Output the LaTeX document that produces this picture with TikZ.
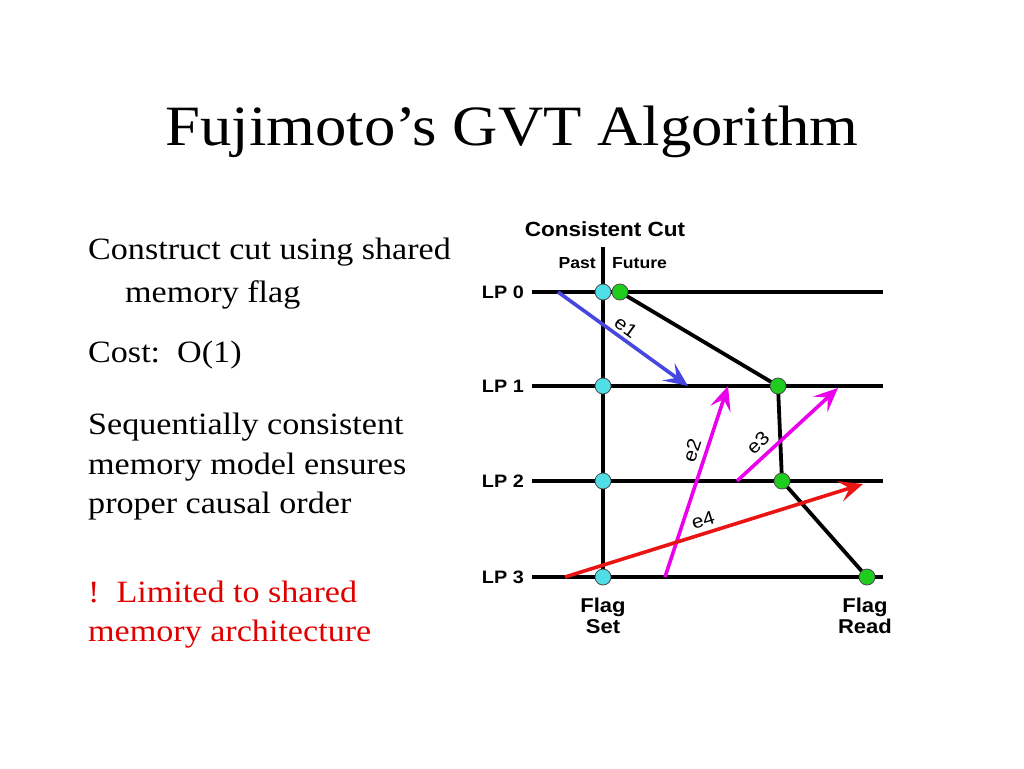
\documentclass[tikz,border=0pt]{standalone}
\usepackage{fontspec}
\setmainfont{Liberation Serif}[FakeStretch=1.1]
\newfontfamily\diagfont{Liberation Sans}[FakeStretch=1.1]
\usetikzlibrary{arrows.meta}
\definecolor{cutcyan}{RGB}{80,222,230}
\definecolor{cutgreen}{RGB}{30,205,30}
\definecolor{msgblue}{RGB}{70,70,225}
\definecolor{msgmag}{RGB}{235,0,235}
\definecolor{msgred}{RGB}{235,20,20}
\definecolor{txtred}{RGB}{225,0,0}
\tikzset{
  body/.style={anchor=base west, inner sep=0pt, font=\fontsize{31}{36}\selectfont},
  lpline/.style={line width=3.8pt},
  cutline/.style={line width=3.8pt},
  pastnode/.style={circle, draw=black!70, line width=0.8pt, fill=cutcyan, minimum size=16pt, inner sep=0pt},
  futnode/.style={circle, draw=black!70, line width=0.8pt, fill=cutgreen, minimum size=16pt, inner sep=0pt},
  msg/.style={line width=3.6pt, -{Stealth[length=24pt,width=21pt,inset=10pt]}},
  lbl/.style={font=\diagfont\bfseries\fontsize{18}{20}\selectfont, inner sep=0pt},
  elbl/.style={font=\diagfont\fontsize{19}{20}\selectfont, inner sep=0pt},
}
\begin{document}
\begin{tikzpicture}[x=1pt,y=-1pt]
\useasboundingbox[fill=white] (0,0) rectangle (1024,768);
% title
\node[anchor=base, inner sep=0pt, font=\fontsize{57}{60}\selectfont] (title) at (512,145) {Fujimoto’s GVT Algorithm};
% left text
\node[body] (t1) at (88,259) {Construct cut using shared};
\node[body] (t2) at (125,302) {memory flag};
\node[body] (t3) at (88,362) {Cost:\ \ O(1)};
\node[body] (t4) at (88,434) {Sequentially consistent};
\node[body] (t5) at (88,474) {memory model ensures};
\node[body] (t6) at (88,513) {proper causal order};
\node[body, text=txtred] (t7) at (88,602) {!\ \ Limited to shared};
\node[body, text=txtred] (t8) at (88,641) {memory architecture};
% diagram labels
\node[lbl, anchor=base, font=\diagfont\bfseries\fontsize{20.5}{24}\selectfont] (cc) at (605,236) {Consistent Cut};
\node[lbl, anchor=base east, font=\diagfont\bfseries\fontsize{16}{18}\selectfont] (past) at (596,268) {Past};
\node[lbl, anchor=base west, font=\diagfont\bfseries\fontsize{16}{18}\selectfont] (future) at (612,268) {Future};
% LP lines
\foreach \i/\y in {0/292,1/386,2/481,3/577}{
  \coordinate (s\i) at (532,\y);
  \coordinate (e\i) at (883,\y);
  \draw[lpline] (s\i) -- (e\i);
  \node[lbl, anchor=east] (lp\i) at (524,\y) {LP \i};
}
% vertical cut
\coordinate (vtop) at (603,247);
\coordinate (vbot) at (603,577);
\draw[cutline] (vtop) -- (vbot);
% future cut
\coordinate (g0) at (620,292);
\coordinate (g1) at (778,386);
\coordinate (g2) at (782,481);
\coordinate (g3) at (867,577);
\draw[cutline, line join=round] (g0) -- (g1) -- (g2) -- (g3);
% messages
\coordinate (m1a) at (558,292); \coordinate (m1b) at (688,386);
\coordinate (m2a) at (665,577); \coordinate (m2b) at (728,386);
\coordinate (m3a) at (737,481); \coordinate (m3b) at (838,388);
\coordinate (m4a) at (565,577); \coordinate (m4b) at (863,484);
\draw[msg, msgblue] (m1a) -- (m1b);
\draw[msg, msgmag] (m2a) -- (m2b);
\draw[msg, msgmag] (m3a) -- (m3b);
\draw[msg, msgred] (m4a) -- (m4b);
\node[elbl, rotate=-36] (le1) at (626,327) {e1};
\node[elbl, rotate=72] (le2) at (692,450) {e2};
\node[elbl, rotate=43] (le3) at (758,443) {e3};
\node[elbl, rotate=17] (le4) at (703,520) {e4};
% nodes
\foreach \i/\y in {0/292,1/386,2/481,3/577}{
  \node[pastnode] (p\i) at (603,\y) {};
}
\node[futnode] (f0) at (g0) {};
\node[futnode] (f1) at (g1) {};
\node[futnode] (f2) at (g2) {};
\node[futnode] (f3) at (g3) {};
% flag labels
\node[lbl, align=center, anchor=north, font=\diagfont\bfseries\fontsize{20}{21}\selectfont] (fs) at (603,598) {Flag\\Set};
\node[lbl, align=center, anchor=north, font=\diagfont\bfseries\fontsize{20}{21}\selectfont] (fr) at (865,598) {Flag\\Read};
\end{tikzpicture}
\end{document}
